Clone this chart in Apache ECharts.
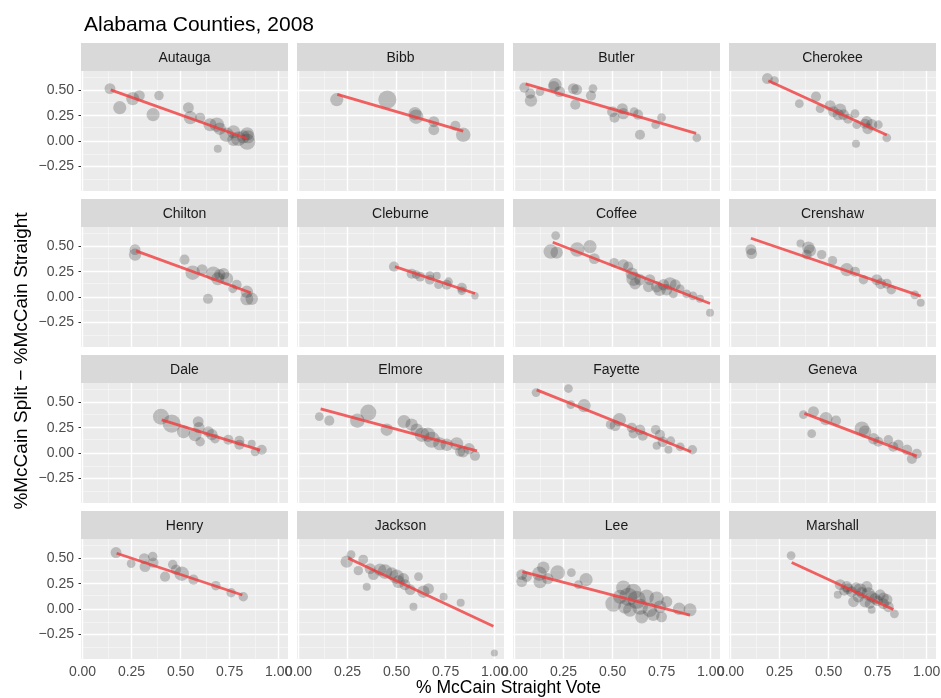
<!DOCTYPE html>
<html><head><meta charset="utf-8">
<script src="https://cdn.jsdelivr.net/npm/echarts@6/dist/echarts.min.js"></script>
<style>html,body{margin:0;padding:0;background:#fff}#c{width:941px;height:698px}</style>
</head><body><div id="c"></div><script>
// ---- data: [x = % McCain straight vote, y = split - straight, weight (votes)] ----
const countyNames = ['Autauga','Bibb','Butler','Cherokee','Chilton','Cleburne','Coffee','Crenshaw','Dale','Elmore','Fayette','Geneva','Henry','Jackson','Lee','Marshall'];

const autauga = [[0.14,0.52,185],[0.19,0.33,270],[0.256,0.42,270],[0.29,0.45,185],[0.39,0.45,140],[0.36,0.26,270],[0.54,0.33,185],[0.55,0.23,270],[0.60,0.23,160],[0.65,0.16,270],[0.685,0.16,330],[0.70,0.12,240],[0.69,-0.08,100],[0.735,0.06,330],[0.77,0.09,270],[0.795,0.02,330],[0.84,0.07,270],[0.84,-0.01,400],[0.82,0.04,270],[0.77,0.01,240],[0.845,0.04,270]];
const bibb = [[0.195,0.41,270],[0.453,0.41,515],[0.594,0.27,270],[0.60,0.24,330],[0.69,0.19,185],[0.69,0.11,185],[0.80,0.15,160],[0.84,0.06,330]];
const butler = [[0.05,0.53,160],[0.08,0.47,160],[0.084,0.40,240],[0.13,0.49,120],[0.207,0.56,270],[0.23,0.49,185],[0.20,0.54,200],[0.30,0.52,185],[0.317,0.51,185],[0.31,0.36,160],[0.40,0.52,120],[0.39,0.45,160],[0.50,0.29,185],[0.55,0.32,185],[0.51,0.23,160],[0.555,0.27,200],[0.61,0.29,120],[0.63,0.26,160],[0.64,0.06,160],[0.72,0.16,120],[0.75,0.23,120],[0.93,0.03,120]];
const cherokee = [[0.188,0.62,185],[0.224,0.60,120],[0.351,0.37,120],[0.436,0.44,160],[0.457,0.32,120],[0.508,0.35,185],[0.525,0.29,185],[0.559,0.31,240],[0.576,0.26,185],[0.55,0.26,200],[0.60,0.22,160],[0.635,0.27,120],[0.644,0.16,120],[0.64,-0.03,100],[0.686,0.17,160],[0.70,0.12,185],[0.72,0.16,200],[0.754,0.16,120],[0.797,0.03,120],[0.695,0.19,200]];
const chilton = [[0.268,0.47,185],[0.268,0.42,240],[0.52,0.37,160],[0.562,0.24,330],[0.61,0.27,185],[0.667,0.23,330],[0.69,0.18,270],[0.72,0.23,200],[0.735,0.18,270],[0.64,-0.02,160],[0.786,0.12,160],[0.766,0.08,120],[0.838,0.05,240],[0.838,-0.02,270],[0.863,-0.02,240],[0.70,0.22,200]];
const cleburne = [[0.487,0.30,160],[0.577,0.23,160],[0.60,0.22,120],[0.62,0.20,150],[0.67,0.21,120],[0.705,0.21,100],[0.67,0.17,150],[0.714,0.12,120],[0.765,0.15,120],[0.756,0.12,150],[0.833,0.09,160],[0.833,0.06,120],[0.90,0.01,85]];
const coffee = [[0.21,0.61,120],[0.185,0.45,330],[0.215,0.44,240],[0.32,0.47,330],[0.385,0.50,270],[0.407,0.38,185],[0.508,0.34,140],[0.555,0.32,185],[0.58,0.30,160],[0.598,0.23,240],[0.607,0.18,330],[0.615,0.13,200],[0.69,0.17,185],[0.683,0.10,185],[0.74,0.07,240],[0.76,0.12,200],[0.793,0.13,270],[0.82,0.12,185],[0.81,0.03,120],[0.845,0.08,120],[0.878,0.03,120],[0.91,0.01,120],[0.946,-0.02,100],[0.997,-0.16,100],[0.725,0.10,200],[0.64,0.17,200],[0.776,0.07,200]];
const crenshaw = [[0.104,0.47,185],[0.108,0.43,185],[0.357,0.53,100],[0.397,0.49,240],[0.405,0.46,240],[0.389,0.42,150],[0.465,0.42,140],[0.52,0.36,140],[0.593,0.27,270],[0.635,0.25,160],[0.678,0.17,140],[0.746,0.17,185],[0.766,0.13,185],[0.797,0.13,150],[0.82,0.07,140],[0.94,0.02,120],[0.97,-0.06,100]];
const dale = [[0.40,0.36,400],[0.455,0.29,515],[0.515,0.21,270],[0.59,0.31,185],[0.594,0.25,200],[0.574,0.18,270],[0.60,0.11,140],[0.642,0.21,185],[0.676,0.14,140],[0.66,0.18,200],[0.744,0.13,160],[0.80,0.12,160],[0.80,0.08,160],[0.863,0.09,100],[0.88,0.01,120],[0.914,0.03,160]];
const elmore = [[0.106,0.36,120],[0.157,0.32,160],[0.30,0.32,330],[0.356,0.40,400],[0.45,0.23,240],[0.538,0.31,270],[0.577,0.28,240],[0.603,0.23,240],[0.63,0.18,330],[0.66,0.18,330],[0.68,0.13,400],[0.72,0.09,270],[0.756,0.08,240],[0.807,0.09,270],[0.824,0.01,160],[0.84,0.01,200],[0.87,0.04,200],[0.90,-0.03,160]];
const fayette = [[0.11,0.60,120],[0.275,0.64,120],[0.287,0.48,120],[0.355,0.47,270],[0.49,0.28,140],[0.513,0.27,185],[0.535,0.33,270],[0.598,0.25,160],[0.606,0.19,140],[0.64,0.23,170],[0.654,0.17,160],[0.72,0.23,140],[0.742,0.18,160],[0.725,0.07,100],[0.756,0.11,170],[0.797,0.12,120],[0.785,0.03,100],[0.845,0.06,120],[0.907,0.03,140]];
const geneva = [[0.372,0.38,120],[0.423,0.41,185],[0.414,0.19,120],[0.487,0.34,270],[0.538,0.32,160],[0.67,0.24,330],[0.686,0.21,240],[0.73,0.14,200],[0.754,0.11,160],[0.805,0.13,140],[0.83,0.06,160],[0.856,0.08,170],[0.90,0.03,170],[0.925,-0.06,160],[0.95,-0.01,160]];
const henry = [[0.171,0.56,185],[0.248,0.45,120],[0.315,0.50,185],[0.319,0.42,185],[0.358,0.52,140],[0.361,0.46,170],[0.421,0.32,160],[0.46,0.44,140],[0.477,0.39,170],[0.506,0.35,330],[0.566,0.29,160],[0.68,0.23,140],[0.758,0.16,140],[0.82,0.12,140]];
const jackson = [[0.246,0.47,240],[0.268,0.54,120],[0.305,0.38,140],[0.33,0.49,150],[0.348,0.22,100],[0.365,0.40,185],[0.382,0.34,185],[0.416,0.39,240],[0.441,0.37,330],[0.475,0.35,250],[0.50,0.32,330],[0.51,0.27,250],[0.543,0.24,185],[0.57,0.19,180],[0.586,0.02,100],[0.612,0.32,120],[0.637,0.17,240],[0.663,0.20,185],[0.74,0.12,100],[0.827,0.06,100],[0.535,0.30,200],[0.999,-0.44,80]];
const lee = [[0.037,0.34,185],[0.037,0.27,185],[0.062,0.32,170],[0.127,0.35,330],[0.13,0.27,270],[0.147,0.41,240],[0.17,0.30,200],[0.22,0.36,330],[0.29,0.36,120],[0.326,0.24,120],[0.365,0.29,270],[0.504,0.05,400],[0.555,0.21,330],[0.58,0.12,515],[0.606,0.17,400],[0.623,0.09,515],[0.64,0.02,400],[0.649,-0.08,270],[0.674,0.12,330],[0.69,-0.01,330],[0.708,-0.06,240],[0.725,0.10,330],[0.742,0.02,250],[0.75,-0.08,185],[0.589,-0.01,300],[0.564,0.02,300],[0.84,0.00,240],[0.895,-0.01,270],[0.538,0.12,300],[0.776,0.07,200]];
const marshall = [[0.309,0.53,120],[0.547,0.14,100],[0.559,0.24,185],[0.593,0.22,200],[0.618,0.17,185],[0.652,0.12,200],[0.66,0.19,270],[0.686,0.07,200],[0.703,0.15,270],[0.72,-0.01,100],[0.737,0.10,200],[0.763,0.14,185],[0.78,0.05,185],[0.797,0.09,200],[0.805,0.02,180],[0.836,-0.05,120],[0.627,0.07,180],[0.695,0.22,200],[0.60,0.20,180],[0.67,0.16,200],[0.72,0.12,200],[0.75,0.08,180],[0.64,0.21,180],[0.71,0.05,160],[0.78,0.11,180],[0.58,0.18,160]];

const countyPoints = [autauga,bibb,butler,cherokee,chilton,cleburne,coffee,crenshaw,dale,elmore,fayette,geneva,henry,jackson,lee,marshall];

// linear fit (geom_smooth lm) endpoints
const fitStart = [[0.144,0.507],[0.198,0.463],[0.057,0.567],[0.193,0.597],[0.273,0.457],[0.492,0.30],[0.195,0.543],[0.104,0.583],[0.404,0.327],[0.113,0.437],[0.113,0.627],[0.377,0.393],[0.174,0.553],[0.254,0.503],[0.04,0.37],[0.312,0.46]];
const fitEnd   = [[0.838,0.023],[0.84,0.097],[0.926,0.073],[0.797,0.057],[0.858,0.04],[0.90,0.033],[0.997,-0.067],[0.97,0.007],[0.906,0.027],[0.91,0.02],[0.90,0.01],[0.95,-0.033],[0.815,0.137],[0.994,-0.173],[0.895,-0.063],[0.831,-0.007]];

const xBreaks = [0, 0.25, 0.5, 0.75, 1];
const xMinorBreaks = [0.125, 0.375, 0.625, 0.875];
const yBreaks = [-0.25, 0, 0.25, 0.5];
const yMinorBreaks = [-0.375, -0.125, 0.125, 0.375, 0.625];

const titleText = 'Alabama Counties, 2008';
const xTitle = '% McCain Straight Vote';
const yTitle = '%McCain Split \u2212 %McCain Straight';

// ---- layout ----
const FONT = '"Liberation Sans", Arial, Helvetica, sans-serif';
const LEFT0 = 81, PANEL_W = 207, COL_STEP = 216;
const STRIP_TOP0 = 43, STRIP_H = 28, PLOT_H = 120, ROW_STEP = 156;
const X_MIN = -0.0077, X_MAX = 1.048, Y_MIN = -0.5, Y_MAX = 0.695;

const fmt = v => (v < 0 ? '\u2212' : '') + Math.abs(v).toFixed(2);

const grids = [], xAxes = [], yAxes = [], series = [], graphics = [];
countyNames.forEach((name, i) => {
  const col = i % 4, row = Math.floor(i / 4);
  const left = LEFT0 + col * COL_STEP;
  const stripTop = STRIP_TOP0 + row * ROW_STEP;
  const top = stripTop + STRIP_H;
  grids.push({left, top, width: PANEL_W, height: PLOT_H, show: true, backgroundColor: '#ebebeb', borderWidth: 0, containLabel: false, outerBoundsMode: 'none'});
  xAxes.push({
    gridIndex: i, type: 'value', min: X_MIN, max: X_MAX,
    axisLine: {show: false}, splitLine: {show: false},
    axisTick: {show: row === 3, customValues: xBreaks, length: 4, lineStyle: {color: '#333333', width: 1}},
    axisLabel: {show: row === 3, customValues: xBreaks, formatter: fmt, color: '#4d4d4d', fontSize: 14, fontFamily: FONT, margin: 6}
  });
  yAxes.push({
    gridIndex: i, type: 'value', min: Y_MIN, max: Y_MAX,
    axisLine: {show: false}, splitLine: {show: false},
    axisTick: {show: col === 0, customValues: yBreaks, length: 4, lineStyle: {color: '#333333', width: 1}},
    axisLabel: {show: col === 0, customValues: yBreaks, formatter: fmt, color: '#4d4d4d', fontSize: 14, fontFamily: FONT, margin: 7}
  });
  const gridLines = [].concat(
    xMinorBreaks.map(v => ({xAxis: v, lineStyle: {color: '#f7f7f7', width: 0.7, type: 'solid'}})),
    yMinorBreaks.map(v => ({yAxis: v, lineStyle: {color: '#f7f7f7', width: 0.7, type: 'solid'}})),
    xBreaks.map(v => ({xAxis: v, lineStyle: {color: '#ffffff', width: 1.4, type: 'solid'}})),
    yBreaks.map(v => ({yAxis: v, lineStyle: {color: '#ffffff', width: 1.4, type: 'solid'}}))
  );
  series.push({
    type: 'scatter', xAxisIndex: i, yAxisIndex: i, z: 3,
    data: countyPoints[i],
    symbolSize: d => 0.8 * Math.sqrt(d[2]),
    itemStyle: {color: 'rgba(60,60,60,0.34)'},
    emphasis: {disabled: true},
    markLine: {silent: true, z: 1, symbol: ['none', 'none'], label: {show: false}, animation: false, emphasis: {disabled: true}, data: gridLines}
  });
  series.push({
    type: 'line', xAxisIndex: i, yAxisIndex: i, z: 4,
    data: [fitStart[i], fitEnd[i]],
    showSymbol: false, symbol: 'none',
    lineStyle: {color: 'rgba(240,60,60,0.8)', width: 2.8},
    emphasis: {disabled: true}
  });
  graphics.push({type: 'rect', shape: {x: left, y: stripTop, width: PANEL_W, height: STRIP_H}, style: {fill: '#d9d9d9'}, silent: true});
  graphics.push({type: 'text', x: left + PANEL_W / 2, y: stripTop + STRIP_H / 2 + 1, style: {text: name, textAlign: 'center', textVerticalAlign: 'middle', fill: '#1a1a1a', font: '14px ' + FONT}, silent: true});
});

graphics.push({type: 'text', x: LEFT0 + (3 * COL_STEP + PANEL_W) / 2, y: 688, style: {text: xTitle, textAlign: 'center', textVerticalAlign: 'middle', fill: '#000', font: '17.5px ' + FONT}, silent: true});
graphics.push({type: 'text', x: 22, y: 361, rotation: Math.PI / 2, style: {text: yTitle, textAlign: 'center', textVerticalAlign: 'middle', fill: '#000', font: '19px ' + FONT}, silent: true});

const chart = echarts.init(document.getElementById('c'), null, {renderer: 'canvas'});
chart.setOption({
  animation: false,
  backgroundColor: '#ffffff',
  title: {text: titleText, left: 79, top: 10, textStyle: {fontSize: 21, fontWeight: 'normal', color: '#000', fontFamily: FONT}},
  grid: grids, xAxis: xAxes, yAxis: yAxes, series,
  graphic: graphics,
  tooltip: {show: false}
});
</script></body></html>
